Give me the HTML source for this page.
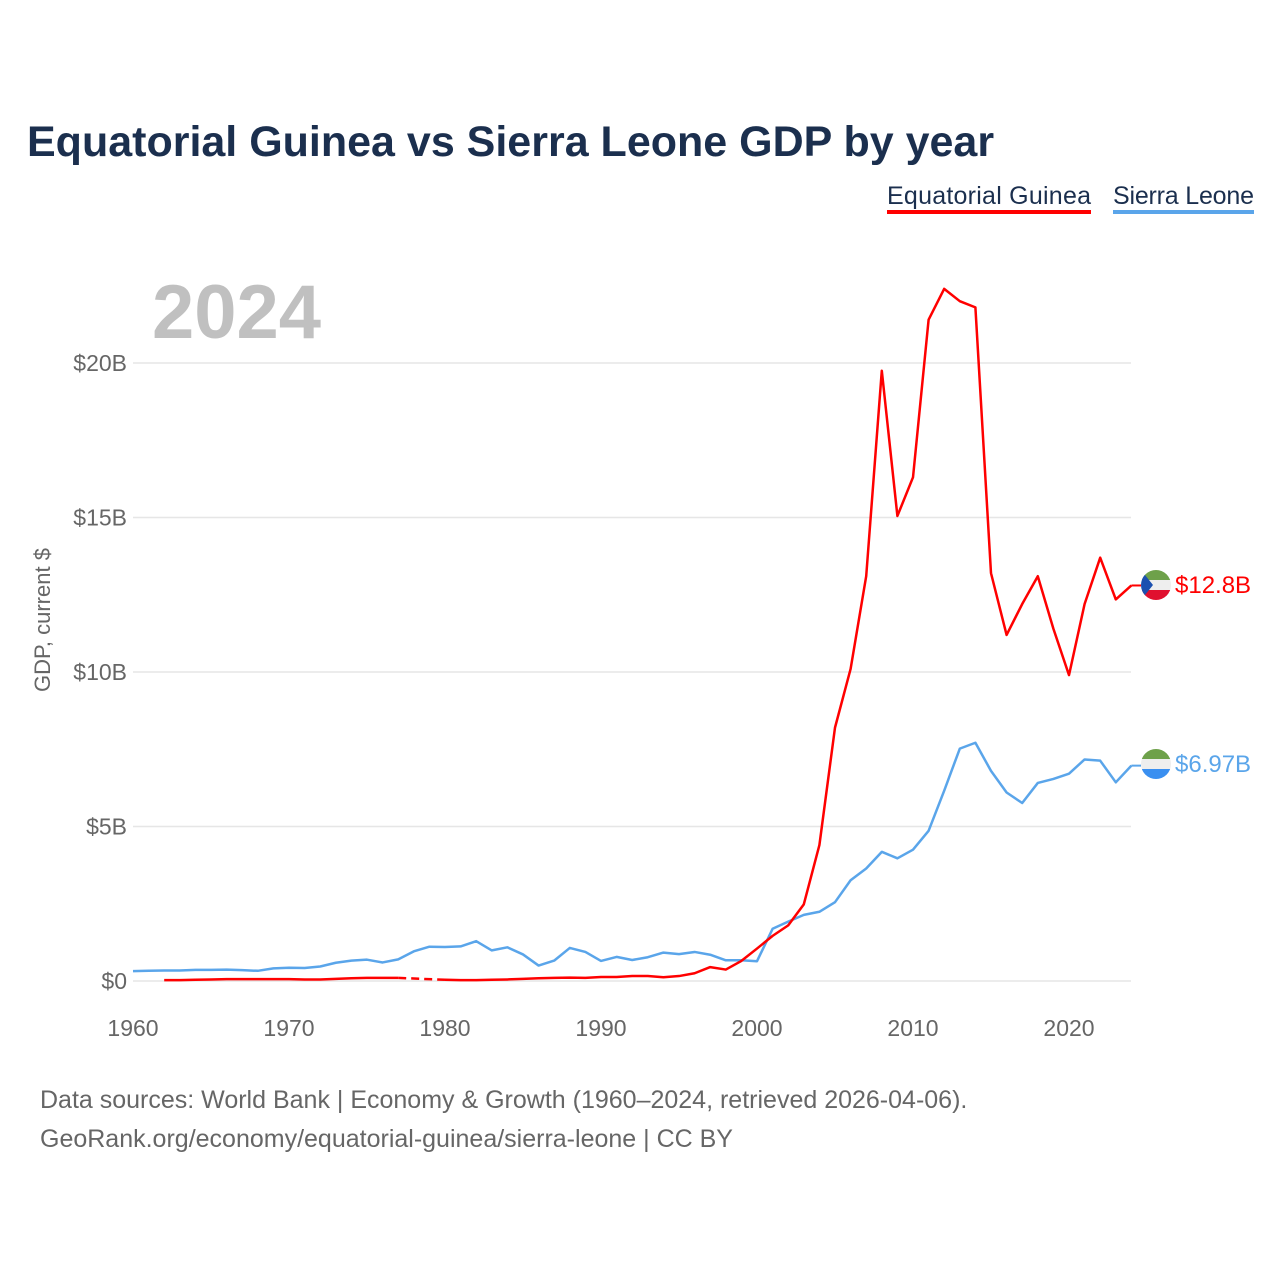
<!DOCTYPE html>
<html><head><meta charset="utf-8"><style>
body{margin:0;background:#fff;font-family:"Liberation Sans",sans-serif;}
svg{display:block}
</style></head><body>
<svg width="1280" height="1280" id="c">
<text x="27" y="156" font-size="43" font-weight="bold" fill="#1b2f4e">Equatorial Guinea vs Sierra Leone GDP by year</text>
<g>
<text x="887" y="204" font-size="25" fill="#1b2f4e" textLength="204">Equatorial Guinea</text>
<rect x="887" y="210" width="204" height="4" fill="#ff0000"/></g>
<g>
<text x="1113" y="204" font-size="25" fill="#1b2f4e" textLength="141">Sierra Leone</text>
<rect x="1113" y="210" width="141" height="4" fill="#5aa5ea"/></g>
<text x="152" y="338" font-size="76" font-weight="bold" fill="#c0c0c0">2024</text>
<text transform="translate(50,620) rotate(-90)" text-anchor="middle" font-size="22" fill="#666">GDP, current $</text>
<g id="grid"></g><g id="series"></g>
<text x="40" y="1108" font-size="25" fill="#666">Data sources: World Bank | Economy &amp; Growth (1960–2024, retrieved 2026-04-06).</text>
<text x="40" y="1147" font-size="25" fill="#666">GeoRank.org/economy/equatorial-guinea/sierra-leone | CC BY</text>
<defs>
<clipPath id="cp1"><circle cx="1156" cy="585" r="15"/></clipPath>
<clipPath id="cp2"><circle cx="1156" cy="764" r="15"/></clipPath>
</defs>
<g clip-path="url(#cp1)">
<rect x="1141" y="570" width="30" height="10" fill="#6ea14a"/><rect x="1141" y="580" width="30" height="10" fill="#eee"/><rect x="1141" y="590" width="30" height="10" fill="#e0102f"/>
<polygon points="1141,570 1153,585 1141,600" fill="#1c50b0"/></g>
<g clip-path="url(#cp2)">
<rect x="1141" y="749" width="30" height="10" fill="#6ea14a"/><rect x="1141" y="759" width="30" height="10" fill="#eee"/><rect x="1141" y="769" width="30" height="10" fill="#3a8ff0"/></g>
<text x="1175" y="593" font-size="24" fill="#ff0000">$12.8B</text>
<text x="1175" y="772" font-size="24" fill="#5aa5ea">$6.97B</text>
</svg>
<script>
const yTicks=[0,5,10,15,20];
const yTickLabels=["$0","$5B","$10B","$15B","$20B"];
const xTicks=[1960,1970,1980,1990,2000,2010,2020];
const eqYears=[];for(let y=1962;y<=2024;y++)eqYears.push(y);
const eqValues=[0.03,0.03,0.04,0.05,0.06,0.06,0.06,0.06,0.06,0.05,0.05,0.07,0.09,0.1,0.1,0.1,null,null,0.04,0.03,0.03,0.04,0.05,0.07,0.09,0.1,0.11,0.1,0.13,0.13,0.16,0.16,0.12,0.16,0.25,0.45,0.37,0.65,1.05,1.46,1.8,2.48,4.4,8.2,10.1,13.1,19.75,15.05,16.3,21.4,22.4,22.0,21.8,13.2,11.2,12.2,13.1,11.4,9.9,12.2,13.7,12.35,12.8];
const slYears=[];for(let y=1960;y<=2024;y++)slYears.push(y);
const slValues=[0.32,0.33,0.34,0.34,0.36,0.36,0.37,0.35,0.33,0.41,0.43,0.42,0.47,0.59,0.66,0.69,0.6,0.7,0.96,1.11,1.1,1.12,1.29,0.99,1.09,0.86,0.5,0.66,1.07,0.94,0.65,0.78,0.68,0.77,0.92,0.87,0.94,0.85,0.67,0.67,0.64,1.69,1.92,2.14,2.24,2.55,3.26,3.64,4.18,3.97,4.25,4.86,6.16,7.52,7.71,6.8,6.1,5.76,6.41,6.54,6.71,7.17,7.13,6.43,6.97];
const NS="http://www.w3.org/2000/svg";
const X=y=>133+(y-1960)*15.6, Y=v=>981-v*30.9;
const grid=document.getElementById('grid'),ser=document.getElementById('series');
function mk(tag,at,parent){const e=document.createElementNS(NS,tag);for(const k in at)e.setAttribute(k,at[k]);parent.appendChild(e);return e;}
yTicks.forEach((t,i)=>{
 const l=mk('line',{x1:133,x2:1131,y1:Y(t),y2:Y(t),stroke:'#e6e6e6','stroke-width':1.5},grid);
 
 
 const tx=mk('text',{x:127,y:Y(t)+8,'text-anchor':'end','font-size':23,fill:'#666'},grid);
 tx.textContent=yTickLabels[i];
 
 
});
xTicks.forEach(t=>{
 const tx=mk('text',{x:X(t),y:1036,'text-anchor':'middle','font-size':23,fill:'#666'},grid);
 tx.textContent=t;
 
 
});
function draw(years,vals,color,name){
 let segs=[],cur=[],gaps=[],last=null;
 years.forEach((yr,i)=>{const v=vals[i];
  if(v==null){if(cur.length){segs.push(cur);cur=[];}return;}
  const p=[X(yr),Y(v)];
  if(!cur.length&&last&&segs.length)gaps.push([last,p]);
  cur.push(p);last=p;});
 if(cur.length)segs.push(cur);
 segs.forEach(s=>{const p=mk('path',{d:'M'+s.map(q=>q.join(',')).join('L'),fill:'none',stroke:color,'stroke-width':2.5,'stroke-linejoin':'round'},ser);
  
  });
 gaps.forEach(g=>{const p=mk('path',{d:'M'+g[0].join(',')+'L'+g[1].join(','),fill:'none',stroke:color,'stroke-width':2.5,'stroke-dasharray':'8,5'},ser);
  
  });
}
draw(slYears,slValues,'#5aa5ea','sierra-leone');
draw(eqYears,eqValues,'#ff0000','equatorial-guinea');
mk('line',{x1:X(2024),y1:Y(12.8),x2:1141,y2:Y(12.8),stroke:'#ff0000','stroke-width':2},ser);
mk('line',{x1:X(2024),y1:Y(6.97),x2:1141,y2:Y(6.97),stroke:'#5aa5ea','stroke-width':2},ser);
</script>
</body></html>
